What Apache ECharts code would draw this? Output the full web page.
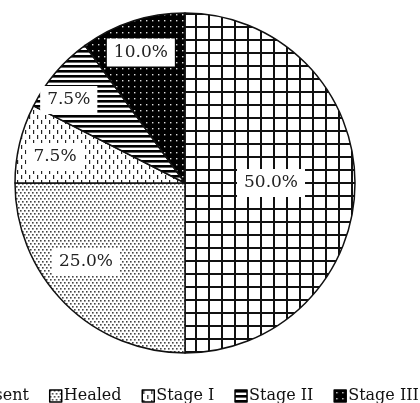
<!DOCTYPE html>
<html>
<head>
<meta charset="utf-8">
<script src="https://cdn.jsdelivr.net/npm/echarts@6/dist/echarts.min.js"></script>
<style>
  html, body { margin: 0; padding: 0; background: #fff; }
  #chart { width: 420px; height: 403px; }
</style>
</head>
<body>
<div id="chart"></div>
<script>
// Wound stage distribution
const categories = ['Absent', 'Healed', 'Stage I', 'Stage II', 'Stage III'];
const shares = [50.0, 25.0, 7.5, 7.5, 10.0];

// Label placement inside each slice: radial fraction and angular nudge (degrees)
const labelRadiusFrac = [0.506, 0.745, 0.78, 0.84, 0.81];
const labelAngleNudge = [0, 6.4, -2.2, -5, -0.7];

function makeTile(w, h, draw) {
  const c = document.createElement('canvas');
  c.width = w; c.height = h;
  const g = c.getContext('2d');
  draw(g, w, h);
  return c;
}

// Square grid
const gridTile = makeTile(13, 13, (g, w, h) => {
  g.fillStyle = '#fff'; g.fillRect(0, 0, w, h);
  g.fillStyle = '#111';
  g.fillRect(0, 0, 2, h);
  g.fillRect(0, 0, w, 2);
});
// Fine staggered dots
const dotTile = makeTile(4, 6, (g, w, h) => {
  g.fillStyle = '#fff'; g.fillRect(0, 0, w, h);
  g.fillStyle = '#444';
  g.fillRect(0, 0, 1.6, 1.6);
  g.fillRect(2, 3, 1.6, 1.6);
});
// Sparse vertical dashes
const dashTile = makeTile(8, 10, (g, w, h) => {
  g.fillStyle = '#fff'; g.fillRect(0, 0, w, h);
  g.fillStyle = '#222';
  g.fillRect(1, 0, 1.2, 4);
  g.fillRect(5, 5, 1.2, 4);
});
// Horizontal stripes
const stripeTile = makeTile(5, 5, (g, w, h) => {
  g.fillStyle = '#fff'; g.fillRect(0, 0, w, h);
  g.fillStyle = '#000';
  g.fillRect(0, 0, w, 2.6);
});
// Black with white dots
const darkTile = makeTile(6, 6, (g, w, h) => {
  g.fillStyle = '#000'; g.fillRect(0, 0, w, h);
  g.fillStyle = '#ddd';
  g.fillRect(2, 2, 1.4, 1.4);
});

const tiles = [gridTile, dotTile, dashTile, stripeTile, darkTile];

const cx = 185, cy = 183, R = 170;
const total = shares.reduce((a, b) => a + b, 0);
const cum = [];
shares.reduce((acc, v, i) => { cum[i] = acc; return acc + v; }, 0);

const chart = echarts.init(document.getElementById('chart'), null, { renderer: 'canvas' });

chart.setOption({
  animation: false,
  backgroundColor: '#fff',
  legend: {
    data: categories,
    orient: 'horizontal',
    left: -47,
    top: 383,
    width: 800,
    itemWidth: 12,
    itemHeight: 12,
    itemGap: 20,
    icon: 'rect',
    itemStyle: { borderColor: '#000', borderWidth: 1.5 },
    textStyle: { fontFamily: 'DejaVu Serif', fontSize: 16, color: '#111', padding: [0, 0, 0, -3] }
  },
  series: [{
    type: 'pie',
    center: [cx, cy],
    radius: R,
    startAngle: 90,
    clockwise: true,
    avoidLabelOverlap: false,
    emphasis: { disabled: true },
    itemStyle: { borderColor: '#111', borderWidth: 1.5 },
    label: {
      show: true,
      position: 'inside',
      formatter: p => p.value.toFixed(1) + '%',
      fontFamily: 'DejaVu Serif',
      fontSize: 17,
      color: '#222',
      backgroundColor: '#fff',
      padding: [6, 7, 5, 7]
    },
    labelLine: { show: false },
    labelLayout: function (params) {
      const i = params.dataIndex;
      const a = ((cum[i] + shares[i] / 2) / total * 360 + labelAngleNudge[i]) * Math.PI / 180;
      const rr = R * labelRadiusFrac[i];
      return { x: cx + rr * Math.sin(a), y: cy - rr * Math.cos(a), align: 'center', verticalAlign: 'middle' };
    },
    data: categories.map((name, i) => ({
      name,
      value: shares[i],
      itemStyle: { color: { image: tiles[i], repeat: 'repeat' } }
    }))
  }]
});
</script>
</body>
</html>
